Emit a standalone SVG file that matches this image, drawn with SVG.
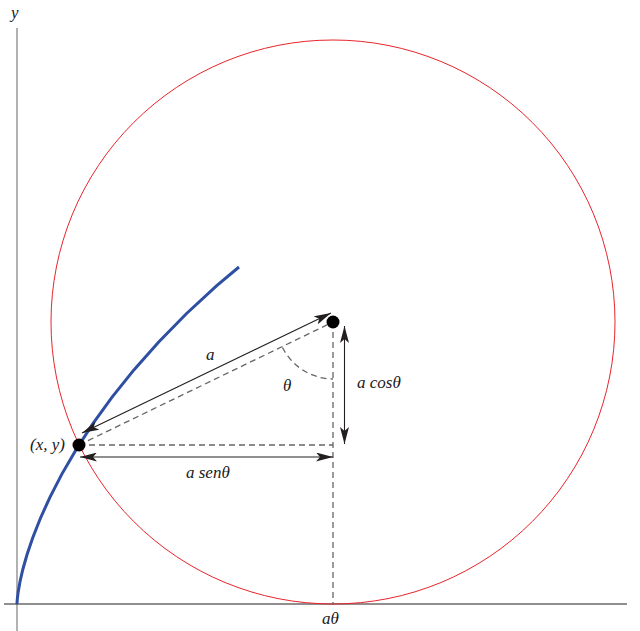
<svg xmlns="http://www.w3.org/2000/svg" width="640" height="631" viewBox="0 0 640 631">
<style>
.lbl{font-family:"Liberation Serif","DejaVu Serif",serif;font-style:italic;font-size:17px;fill:#1a1a1a}
.dash{fill:none;stroke:#666;stroke-width:1.3;stroke-dasharray:6,4}
.arr{fill:none;stroke:#231f20;stroke-width:1.1;marker-start:url(#ah);marker-end:url(#ah)}
</style>
<defs>
<marker id="ah" viewBox="0 0 17 9" markerWidth="17" markerHeight="9" refX="17" refY="4.5" orient="auto-start-reverse" markerUnits="userSpaceOnUse">
<path d="M0,0 L17,4.5 L0,9 L4,4.5 z" fill="#231f20"/>
</marker>
</defs>
<rect width="640" height="631" fill="#fff"/>
<g id="axes">
<line x1="17" y1="28" x2="17" y2="631" stroke="#888" stroke-width="1.3"/>
<line x1="4" y1="604" x2="627" y2="604" stroke="#231f20" stroke-width="1.1"/>
<text class="lbl" x="11" y="18">y</text>
</g>
<g id="circle">
<circle cx="333" cy="322" r="282" fill="none" stroke="#e8242b" stroke-width="1"/>
</g>
<g id="cycloid">
<polyline fill="none" stroke="#2f4fa3" stroke-width="3" stroke-linecap="butt" points="17,604 17.05,602.59 17.38,598.38 18.26,591.40 19.98,581.74 22.80,569.48 26.97,554.75 32.73,537.69 40.31,518.47 49.90,497.29 61.71,474.37 75.88,449.91 92.56,424.19 111.88,397.43 133.90,369.93 158.71,341.95 186.32,313.77 216.75,285.67 239,267"/>
</g>
<g id="connectors">
<line class="dash" x1="79" y1="445" x2="333" y2="322"/>
<line class="dash" x1="79" y1="445" x2="333" y2="445"/>
<line class="dash" x1="333" y1="322" x2="333" y2="604"/>
<path class="dash" d="M282.5,347.5 A57,57 0 0 0 333,379"/>
<line class="arr" x1="82" y1="433" x2="331" y2="313"/>
<line class="arr" x1="80" y1="457" x2="333" y2="457"/>
<line class="arr" x1="344.5" y1="326" x2="344.5" y2="444"/>
</g>
<g id="point-xy">
<circle cx="79" cy="445" r="6.5" fill="#000"/>
<text class="lbl" x="30" y="450">(x, y)</text>
</g>
<g id="point-center">
<circle cx="333" cy="322" r="6.5" fill="#000"/>
</g>
<g id="labels">
<text class="lbl" x="206" y="360">a</text>
<text class="lbl" x="283" y="391">θ</text>
<text class="lbl" x="357" y="388">a cosθ</text>
<text class="lbl" x="186" y="478">a senθ</text>
<text class="lbl" x="322" y="624">aθ</text>
</g>
</svg>
